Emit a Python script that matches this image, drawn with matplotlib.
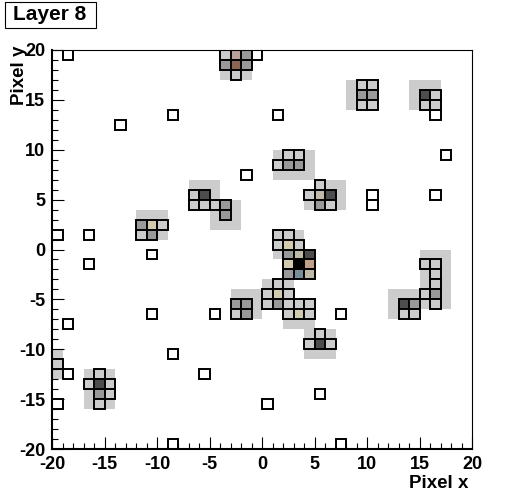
import matplotlib
matplotlib.use("Agg")
import matplotlib.pyplot as plt
from matplotlib.patches import Rectangle
from matplotlib.ticker import MultipleLocator

plt.rcParams['font.family'] = ['Liberation Sans', 'DejaVu Sans']
plt.rcParams['font.weight'] = 'bold'
plt.rcParams['axes.unicode_minus'] = False

# hit pixels of layer 8 (lower left corner of each pixel) and amplitude class
hit_x = [-19, -9, -14, -20, -17, 1, -2, -1, 16, 17, 10, 10, 16, -11, -17, -11, -19, -9, -19, -20,
         -9, -5, -6, 0, 5, 7, 7,
         -12, -11, -10, -12, -11,
         -4, -3, -2, -4, -3, -2, -3,
         9, 10, 9, 10, 9, 10,
         15, 16, 15, 16,
         2, 3, 1, 2, 3,
         -7, -6, -7, -6, -5, -4, -4,
         5, 4, 5, 6, 5, 6,
         1, 2, 1, 2, 3, 2, 3, 4, 2, 3, 4, 2, 3, 4,
         1, 0, 1, 2, 0, 1, 2, 3, 4, 2, 3, 4,
         -3, -2, -3, -2,
         5, 4, 5, 6,
         -16, -17, -16, -15, -16, -15, -16,
         -20,
         15, 16, 16, 16, 15, 16, 13, 14, 16, 13, 14]
hit_y = [19, 13, 12, 1, 1, 13, 7, 19, 13, 9, 5, 4, 5, -1, -2, -7, -8, -11, -13, -16,
         -20, -7, -13, -16, -15, -7, -20,
         2, 2, 2, 1, 1,
         19, 19, 19, 18, 18, 18, 17,
         16, 16, 15, 15, 14, 14,
         15, 15, 14, 14,
         9, 9, 8, 8, 8,
         5, 5, 4, 4, 4, 4, 3,
         6, 5, 5, 5, 4, 4,
         1, 1, 0, 0, 0, -1, -1, -1, -2, -2, -2, -3, -3, -3,
         -4, -5, -5, -5, -6, -6, -6, -6, -6, -7, -7, -7,
         -6, -6, -7, -7,
         -9, -10, -10, -10,
         -13, -14, -14, -14, -15, -15, -16,
         -12,
         -2, -2, -3, -4, -5, -5, -6, -6, -6, -7, -7]
hit_c = ['w'] * 27 + \
        ['g', 't', 'l', 'l', 'g'] + \
        ['l', 'p', 'g', 'g', 'b', 'g', 'l'] + \
        ['l', 'l', 'g', 'g', 'l', 'l'] + \
        ['d', 'l', 'l', 'l'] + \
        ['l', 'l', 'l', 'g', 'g'] + \
        ['l', 'd', 'l', 'l', 'l', 'g', 'g'] + \
        ['l', 'l', 's', 'd', 'g', 'l'] + \
        ['l', 'l', 'l', 't', 'l', 'g', 's', 'd', 't', 'k', 'r', 'g', 'u', 's'] + \
        ['l', 'l', 't', 'l', 'l', 'g', 'l', 'l', 'l', 'l', 't', 'l'] + \
        ['g', 'g', 'l', 'g'] + \
        ['l', 'l', 'd', 'l'] + \
        ['l', 'l', 'd', 'l', 'g', 'l', 'l'] + \
        ['l'] + \
        ['l', 'l', 'l', 'l', 'l', 'g', 'd', 'g', 'l', 'l', 'l']

# shaded regions (x0, y0, x1, y1)
reg_x0 = [-12, -4, 8, 14, 1, -7, -5, 5, 4, -17, -3, -22, 1, 2, 0, 2, 4, 12, 15]
reg_y0 = [1, 17, 14, 14, 7, 4, 2, 4, 4, -16, -7, -13, -1, -3, -6, -8, -11, -7, -6]
reg_x1 = [-9, -1, 11, 17, 5, -4, -2, 8, 5, -14, 0, -19, 4, 5, 3, 5, 7, 15, 18]
reg_y1 = [4, 20, 17, 17, 10, 7, 5, 7, 6, -12, -4, -10, 2, 0, -3, -5, -8, -4, 0]

colours = {'w': 'white', 'l': '#cccccc', 'g': '#999999', 'd': '#4d4d4d', 'k': '#000000',
           't': '#d2caae', 's': '#bfb9a8', 'p': '#b9a09b', 'b': '#8c6453',
           'r': '#c0a088', 'u': '#788c9a'}

fig = plt.figure(figsize=(5.24, 5.0), dpi=100)
ax = fig.add_axes([52 / 524, 51 / 500, 420 / 524, 399 / 500])

for x0, y0, x1, y1 in zip(reg_x0, reg_y0, reg_x1, reg_y1):
    ax.add_patch(Rectangle((x0, y0), x1 - x0, y1 - y0, facecolor='#cccccc',
                           edgecolor='none', zorder=1))
for x, y, c in zip(hit_x, hit_y, hit_c):
    ax.add_patch(Rectangle((x, y), 1, 1, facecolor=colours[c], edgecolor='black',
                           linewidth=1.4, zorder=2))

ax.set_xlim(-20, 20)
ax.set_ylim(-20, 20)
ax.xaxis.set_major_locator(MultipleLocator(5))
ax.yaxis.set_major_locator(MultipleLocator(5))
ax.xaxis.set_minor_locator(MultipleLocator(1))
ax.yaxis.set_minor_locator(MultipleLocator(1))
ax.tick_params(which='both', direction='in', top=False, right=False, width=0.8,
               labelsize=13, pad=5)
ax.tick_params(which='major', length=8.6)
ax.tick_params(which='minor', length=4.3)
for s in ['left', 'bottom']:
    ax.spines[s].set_linewidth(1.5)
    ax.spines[s].set_zorder(5)
for s in ['top', 'right']:
    ax.spines[s].set_linewidth(0.8)
    ax.spines[s].set_zorder(5)

fig.text(468 / 524, 1 - 484 / 500, 'Pixel x', ha='right', va='center', fontsize=13.5)
fig.text(19 / 524, 1 - 46 / 500, 'Pixel y', ha='center', va='top', rotation=90, fontsize=13.5)

fig.patches.append(Rectangle((5 / 524, 1 - 28 / 500), 91 / 524, 26 / 500, transform=fig.transFigure,
                             facecolor='white', edgecolor='black', linewidth=0.8))
fig.text(50 / 524, 1 - 15 / 500, 'Layer 8', ha='center', va='center', fontsize=15)

fig.savefig('out.png', dpi=100)
